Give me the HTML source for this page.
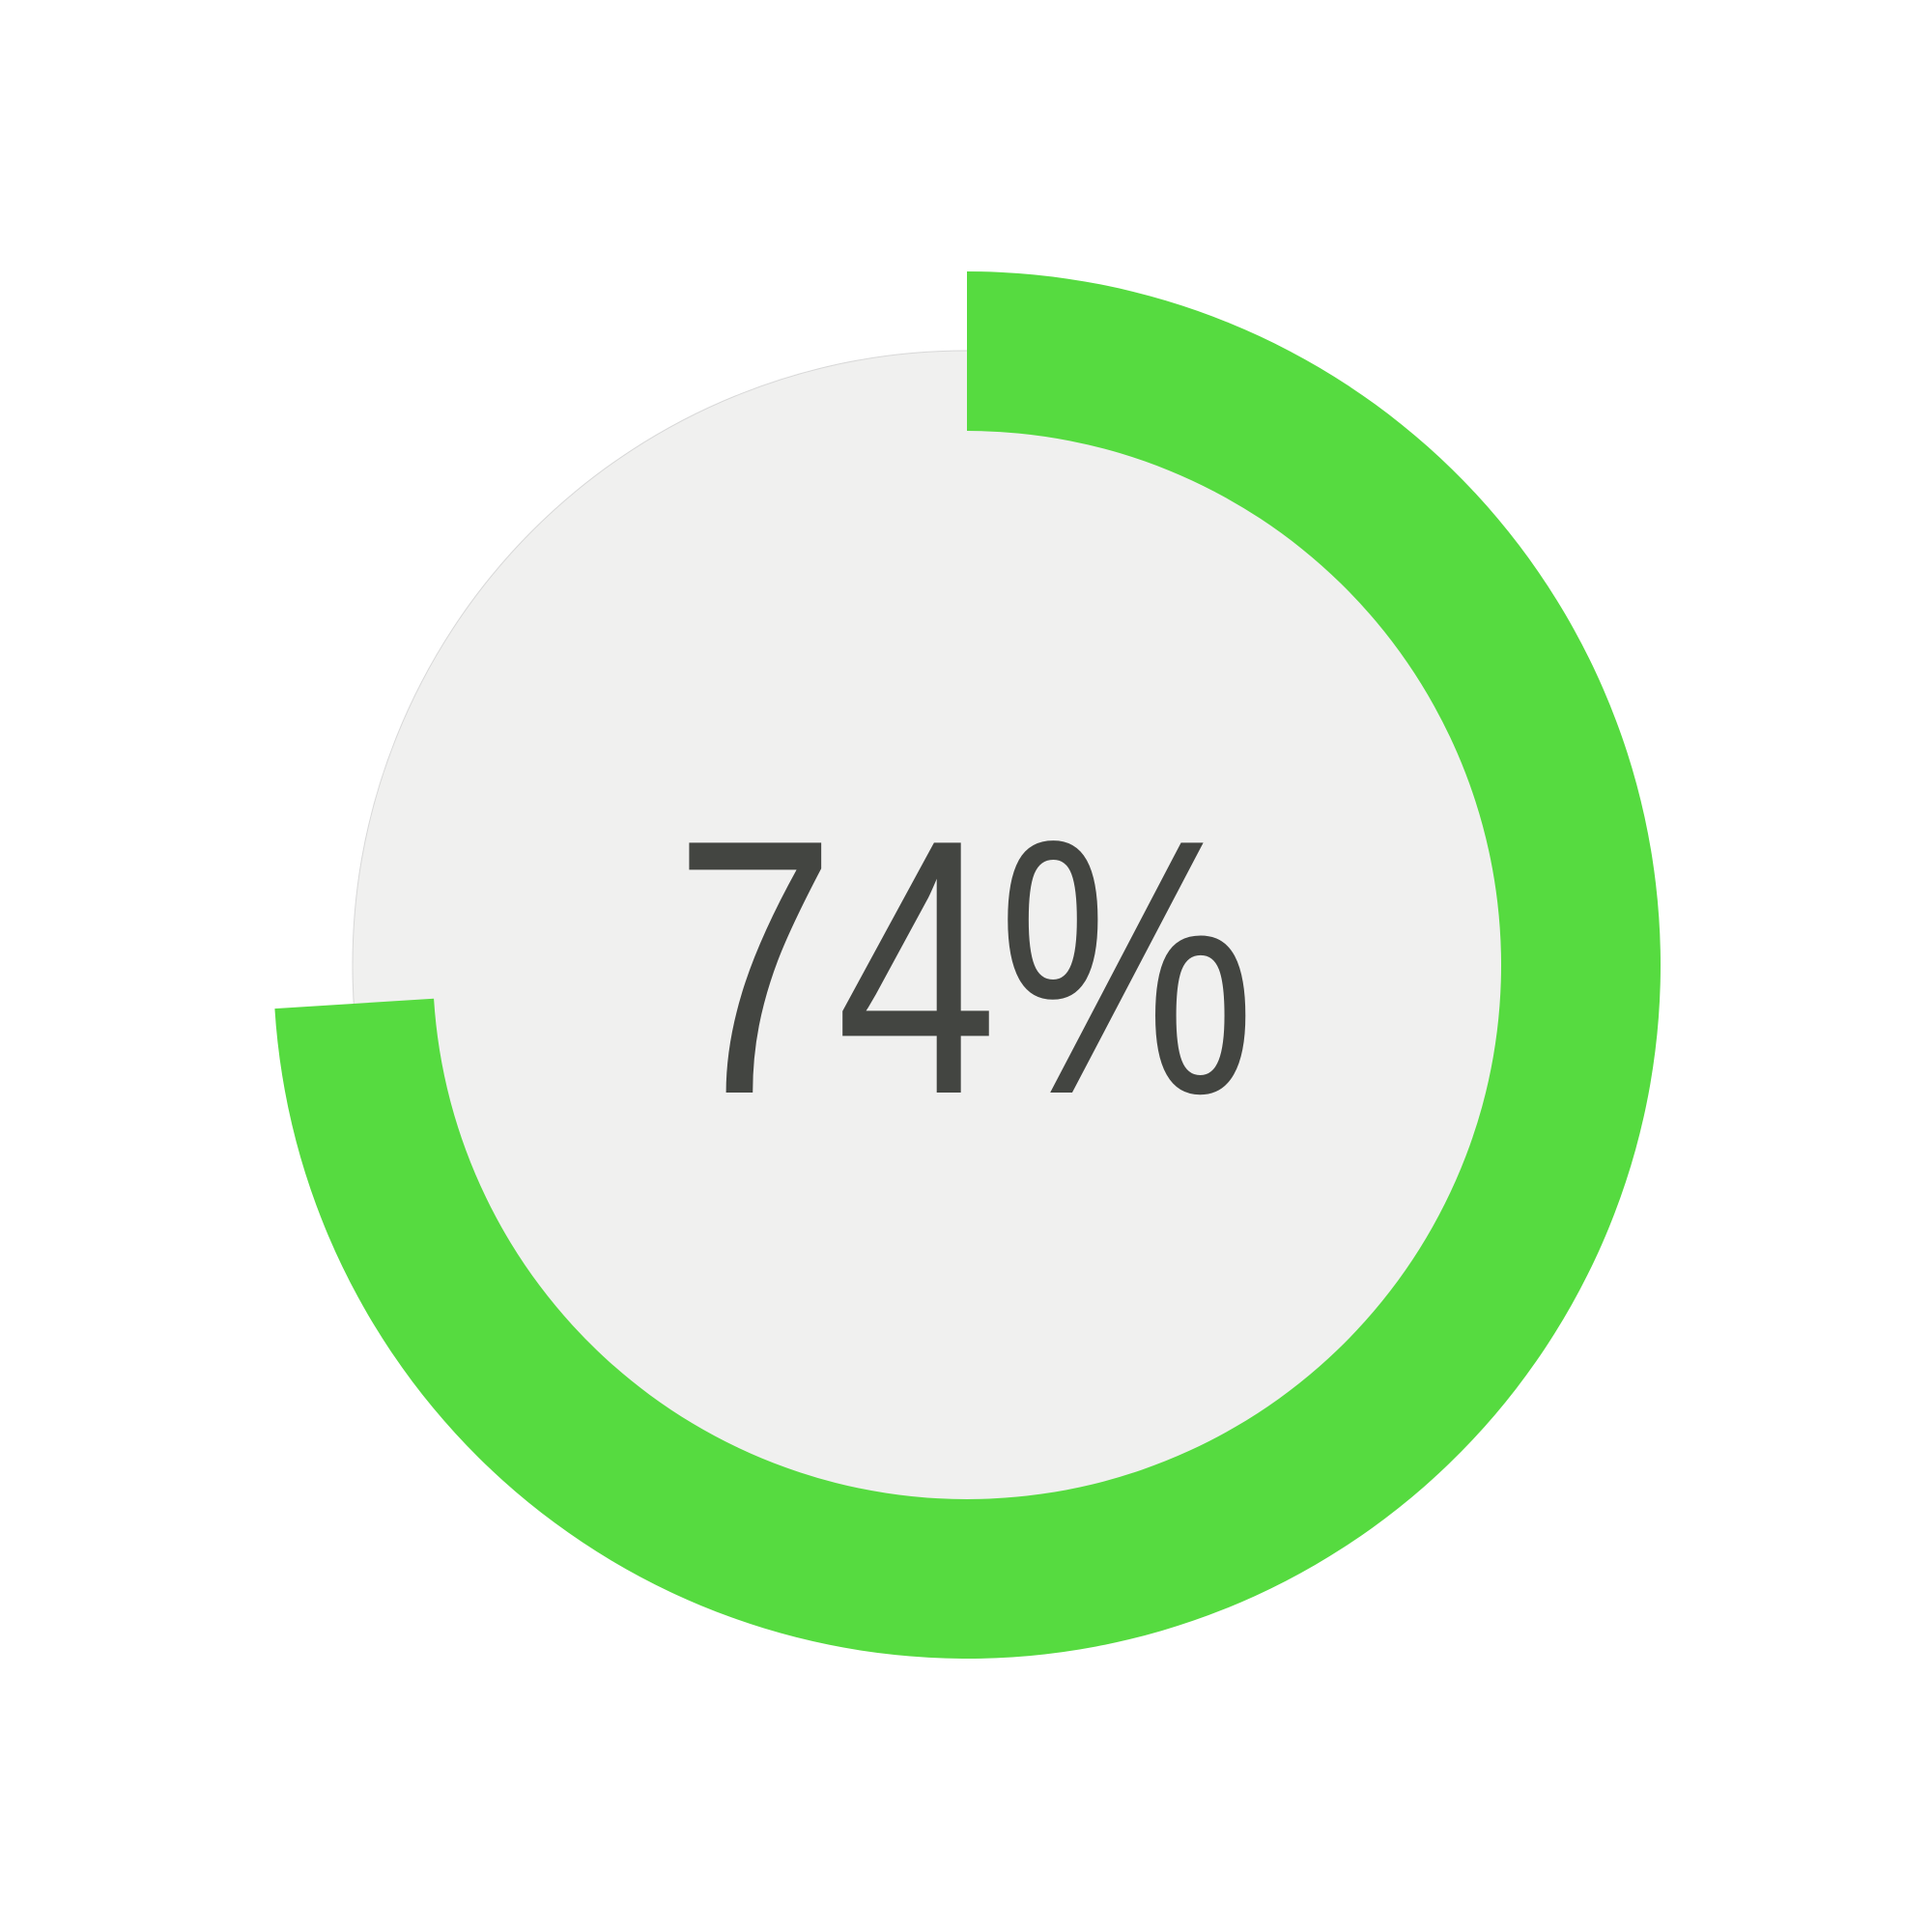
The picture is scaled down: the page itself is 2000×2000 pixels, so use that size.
<!DOCTYPE html>
<html>
<head>
<meta charset="utf-8">
<style>
  html, body { margin: 0; padding: 0; background: #ffffff; }
  svg { display: block; }
</style>
</head>
<body>
<svg id="chart" width="2000" height="2000" viewBox="0 0 2000 2000" xmlns="http://www.w3.org/2000/svg">
  <rect x="0" y="0" width="2000" height="2000" fill="#ffffff"/>
</svg>
<script>
const progressValues = [74];
const progressMax = [100];
const labelText = ['74%'];

const svg = document.getElementById('chart');
const NS = 'http://www.w3.org/2000/svg';
const cx = 1001, cy = 999, rOuter = 718, rInner = 553, rTrack = 636;

function angleScale(v) { return (v / progressMax[0]) * 2 * Math.PI; }
function pt(r, a) { return [cx + r * Math.sin(a), cy - r * Math.cos(a)]; }

const track = document.createElementNS(NS, 'circle');


track.setAttribute('cx', cx);
track.setAttribute('cy', cy);
track.setAttribute('r', rTrack);
track.setAttribute('fill', '#f0f0ef');
track.setAttribute('stroke', '#d8d8d8');
track.setAttribute('stroke-width', '1');
svg.appendChild(track);

const a0 = 0, a1 = angleScale(progressValues[0]);
const large = (a1 - a0) > Math.PI ? 1 : 0;
const p1 = pt(rOuter, a0), p2 = pt(rOuter, a1), p3 = pt(rInner, a1), p4 = pt(rInner, a0);
const d = `M${p1[0]},${p1[1]} A${rOuter},${rOuter} 0 ${large} 1 ${p2[0]},${p2[1]} L${p3[0]},${p3[1]} A${rInner},${rInner} 0 ${large} 0 ${p4[0]},${p4[1]} Z`;
const arc = document.createElementNS(NS, 'path');


arc.setAttribute('d', d);
arc.setAttribute('fill', '#56db40');
svg.appendChild(arc);

const t = document.createElementNS(NS, 'text');


t.setAttribute('x', 698);
t.setAttribute('y', 1131);
t.setAttribute('font-family', '"Liberation Sans", sans-serif');
t.setAttribute('font-size', '376');
t.setAttribute('fill', '#434541');
t.setAttribute('textLength', '602');
t.setAttribute('lengthAdjust', 'spacingAndGlyphs');
t.textContent = labelText[0];
svg.appendChild(t);
</script>
</body>
</html>
